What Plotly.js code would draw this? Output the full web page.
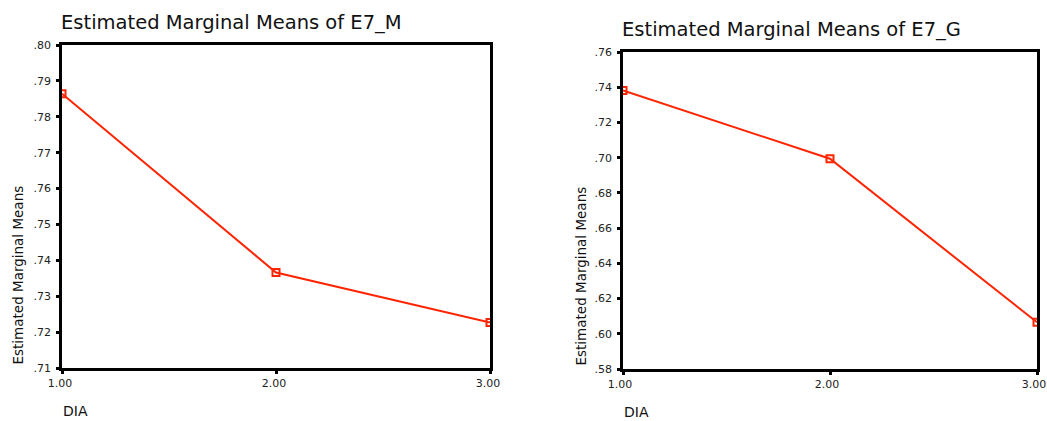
<!DOCTYPE html>
<html>
<head>
<meta charset="utf-8">
<script src="https://cdn.plot.ly/plotly-3.0.1.min.js"></script>
<style>
html,body{margin:0;padding:0;background:#fff;}
#chart{width:1047px;height:421px;}
</style>
</head>
<body>
<div id="chart"></div>
<script>
// ---- data ----
const dia = [1, 2, 3];
const e7m = [0.7864, 0.7366, 0.7227];
const e7g = [0.7382, 0.6994, 0.6065];
const xTickVals = [1, 2, 3];
const xTickText = ["1.00", "2.00", "3.00"];
const yTickValsM = [0.71, 0.72, 0.73, 0.74, 0.75, 0.76, 0.77, 0.78, 0.79, 0.80];
const yTickTextM = [".71", ".72", ".73", ".74", ".75", ".76", ".77", ".78", ".79", ".80"];
const yTickValsG = [0.58, 0.60, 0.62, 0.64, 0.66, 0.68, 0.70, 0.72, 0.74, 0.76];
const yTickTextG = [".58", ".60", ".62", ".64", ".66", ".68", ".70", ".72", ".74", ".76"];
const titles = ["Estimated Marginal Means of E7_M", "Estimated Marginal Means of E7_G"];
const yTitle = "Estimated Marginal Means";
const xTitle = "DIA";

// ---- styling ----
const FONT = "DejaVu Sans, Lucida Grande, sans-serif";
const RED = "#ff2400";
const W = 1047, H = 421;
const px = v => v / W;
const py = v => (H - v) / H;

const lineTrace = (y, xa, ya) => ({
  x: dia, y: y, xaxis: xa, yaxis: ya,
  type: "scatter", mode: "lines+markers",
  line: {color: RED, width: 2},
  marker: {symbol: "square-open", size: 7, color: RED, line: {width: 2, color: RED}},
  hoverinfo: "x+y", showlegend: false
});

const axisCommon = {
  showgrid: false, zeroline: false,
  showline: true, mirror: true, linecolor: "#000", linewidth: 2.5,
  ticks: "outside", ticklen: 3, tickwidth: 3, tickcolor: "#000",
  tickfont: {family: FONT, size: 11, color: "#222"},
  ticklabeloverflow: "allow",
  fixedrange: true
};

const layout = {
  width: W, height: H,
  margin: {l: 0, r: 0, t: 0, b: 0},
  paper_bgcolor: "#fff", plot_bgcolor: "#fff",
  showlegend: false,
  xaxis: Object.assign({}, axisCommon, {
    domain: [px(62), px(490)], anchor: "y",
    range: [1, 3], tickvals: xTickVals, ticktext: xTickText,
    ticklabelshift: -2
  }),
  yaxis: Object.assign({}, axisCommon, {
    domain: [py(368), py(45)], anchor: "x",
    range: [0.71, 0.80], tickvals: yTickValsM, ticktext: yTickTextM,
    ticklabelstandoff: 3
  }),
  xaxis2: Object.assign({}, axisCommon, {
    domain: [px(623), px(1037)], anchor: "y2",
    range: [1, 3], tickvals: xTickVals, ticktext: xTickText,
    ticklabelshift: -3
  }),
  yaxis2: Object.assign({}, axisCommon, {
    domain: [py(369), py(52)], anchor: "x2",
    range: [0.58, 0.76], tickvals: yTickValsG, ticktext: yTickTextG,
    ticklabelstandoff: 3
  }),
  annotations: [
    {text: titles[0], xref: "paper", yref: "paper", x: px(59), y: py(23), xanchor: "left", yanchor: "middle",
     showarrow: false, font: {family: FONT, size: 19.5, color: "#111"}},
    {text: titles[1], xref: "paper", yref: "paper", x: px(620), y: py(29), xanchor: "left", yanchor: "middle",
     showarrow: false, font: {family: FONT, size: 19.5, color: "#111"}},
    {text: yTitle, xref: "paper", yref: "paper", x: px(17), y: py(367), xanchor: "center", yanchor: "bottom",
     textangle: -90, showarrow: false, font: {family: FONT, size: 13.5, color: "#111"}},
    {text: yTitle, xref: "paper", yref: "paper", x: px(580), y: py(368), xanchor: "center", yanchor: "bottom",
     textangle: -90, showarrow: false, font: {family: FONT, size: 13.5, color: "#111"}},
    {text: xTitle, xref: "paper", yref: "paper", x: px(61), y: py(411), xanchor: "left", yanchor: "middle",
     showarrow: false, font: {family: FONT, size: 14, color: "#111"}},
    {text: xTitle, xref: "paper", yref: "paper", x: px(622), y: py(412), xanchor: "left", yanchor: "middle",
     showarrow: false, font: {family: FONT, size: 14, color: "#111"}}
  ]
};

Plotly.newPlot("chart", [
  lineTrace(e7m, "x", "y"),
  lineTrace(e7g, "x2", "y2")
], layout, {displayModeBar: false});
</script>
</body>
</html>
